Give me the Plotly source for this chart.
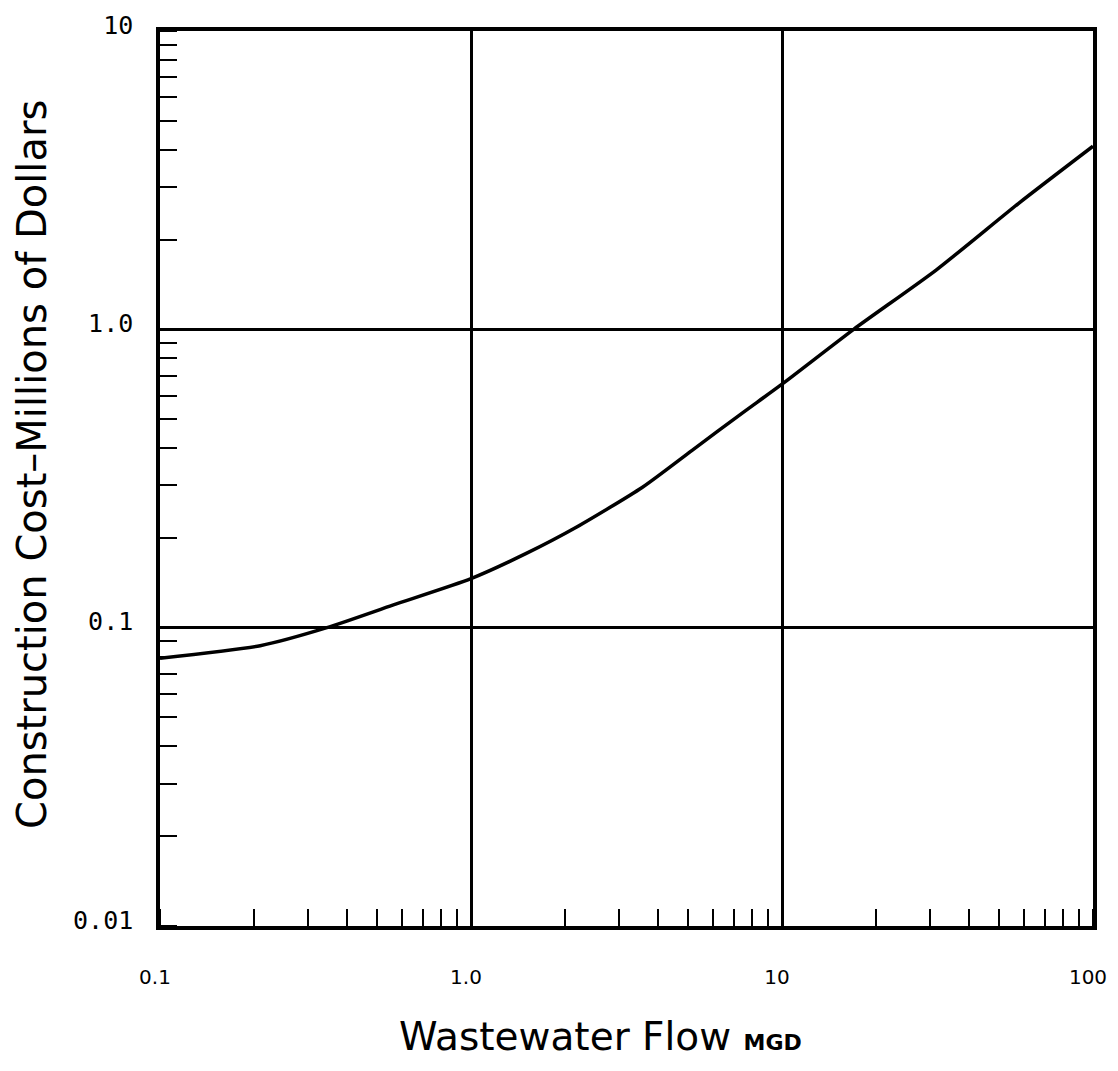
import plotly.graph_objects as go

# Data
flow_mgd = [0.1, 0.21, 0.344, 0.56, 1.0, 1.5, 2.18, 3.55, 5.14, 7.43, 10, 17, 31.3, 57.8, 100]
cost_musd = [0.079, 0.087, 0.1, 0.119, 0.146, 0.177, 0.217, 0.295, 0.393, 0.523, 0.655, 1.0, 1.58, 2.65, 4.11]

x_tickvals = [0.1, 1, 10, 100]
x_ticktext = ["0.1", "1.0", "10", "100"]
y_tickvals = [0.01, 0.1, 1, 10]
y_ticktext = ["0.01", "0.1", "1.0", "10"]

y_title = "Construction Cost\u2013Millions of Dollars"
x_title = "Wastewater Flow"
x_unit = "MGD"

fig = go.Figure()
fig.add_trace(go.Scatter(
    x=flow_mgd, y=cost_musd, mode="lines",
    line=dict(color="black", width=3.5, shape="spline", smoothing=0.6),
    showlegend=False, hoverinfo="skip",
))

fig.update_layout(
    width=1102, height=1055,
    margin=dict(l=152, r=17, t=23, b=137),
    paper_bgcolor="white", plot_bgcolor="white",
    xaxis=dict(
        type="log", range=[-1, 2], automargin=False,
        tickvals=x_tickvals, ticktext=x_ticktext,
        ticks="", ticklabelstandoff=30, ticklabelshift=-5, ticklabeloverflow="allow",
        tickfont=dict(family="DejaVu Sans", size=20, color="black"),
        showgrid=True, gridcolor="black", gridwidth=2.5,
        showline=True, linecolor="black", linewidth=3.5, mirror=True,
        zeroline=False,
        minor=dict(ticks="inside", ticklen=17, tickwidth=2, tickcolor="black",
                   dtick="D1", showgrid=False),
    ),
    yaxis=dict(
        type="log", range=[-2, 1], automargin=False,
        tickvals=y_tickvals, ticktext=y_ticktext,
        ticks="", ticklabelstandoff=18, ticklabelshift=-6, ticklabeloverflow="allow",
        tickfont=dict(family="DejaVu Sans Mono", size=25, color="black"),
        showgrid=True, gridcolor="black", gridwidth=2.5,
        showline=True, linecolor="black", linewidth=3.5, mirror=True,
        zeroline=False,
        minor=dict(ticks="inside", ticklen=17, tickwidth=2, tickcolor="black",
                   dtick="D1", showgrid=False),
    ),
    annotations=[
        dict(text=y_title, xref="paper", yref="paper",
             x=(32 - 160) / 933, y=(926 - 465) / 895,
             textangle=-90, showarrow=False, xanchor="center", yanchor="middle",
             font=dict(family="DejaVu Sans", size=40, color="black")),
        dict(text=x_title + " <span style='font-size:22px'><b>" + x_unit + "</b></span>",
             xref="paper", yref="paper",
             x=(600 - 160) / 933, y=(926 - 1036) / 895,
             showarrow=False, xanchor="center", yanchor="middle",
             font=dict(family="DejaVu Sans", size=39, color="black")),
    ],
)

fig.write_html("out.html")
